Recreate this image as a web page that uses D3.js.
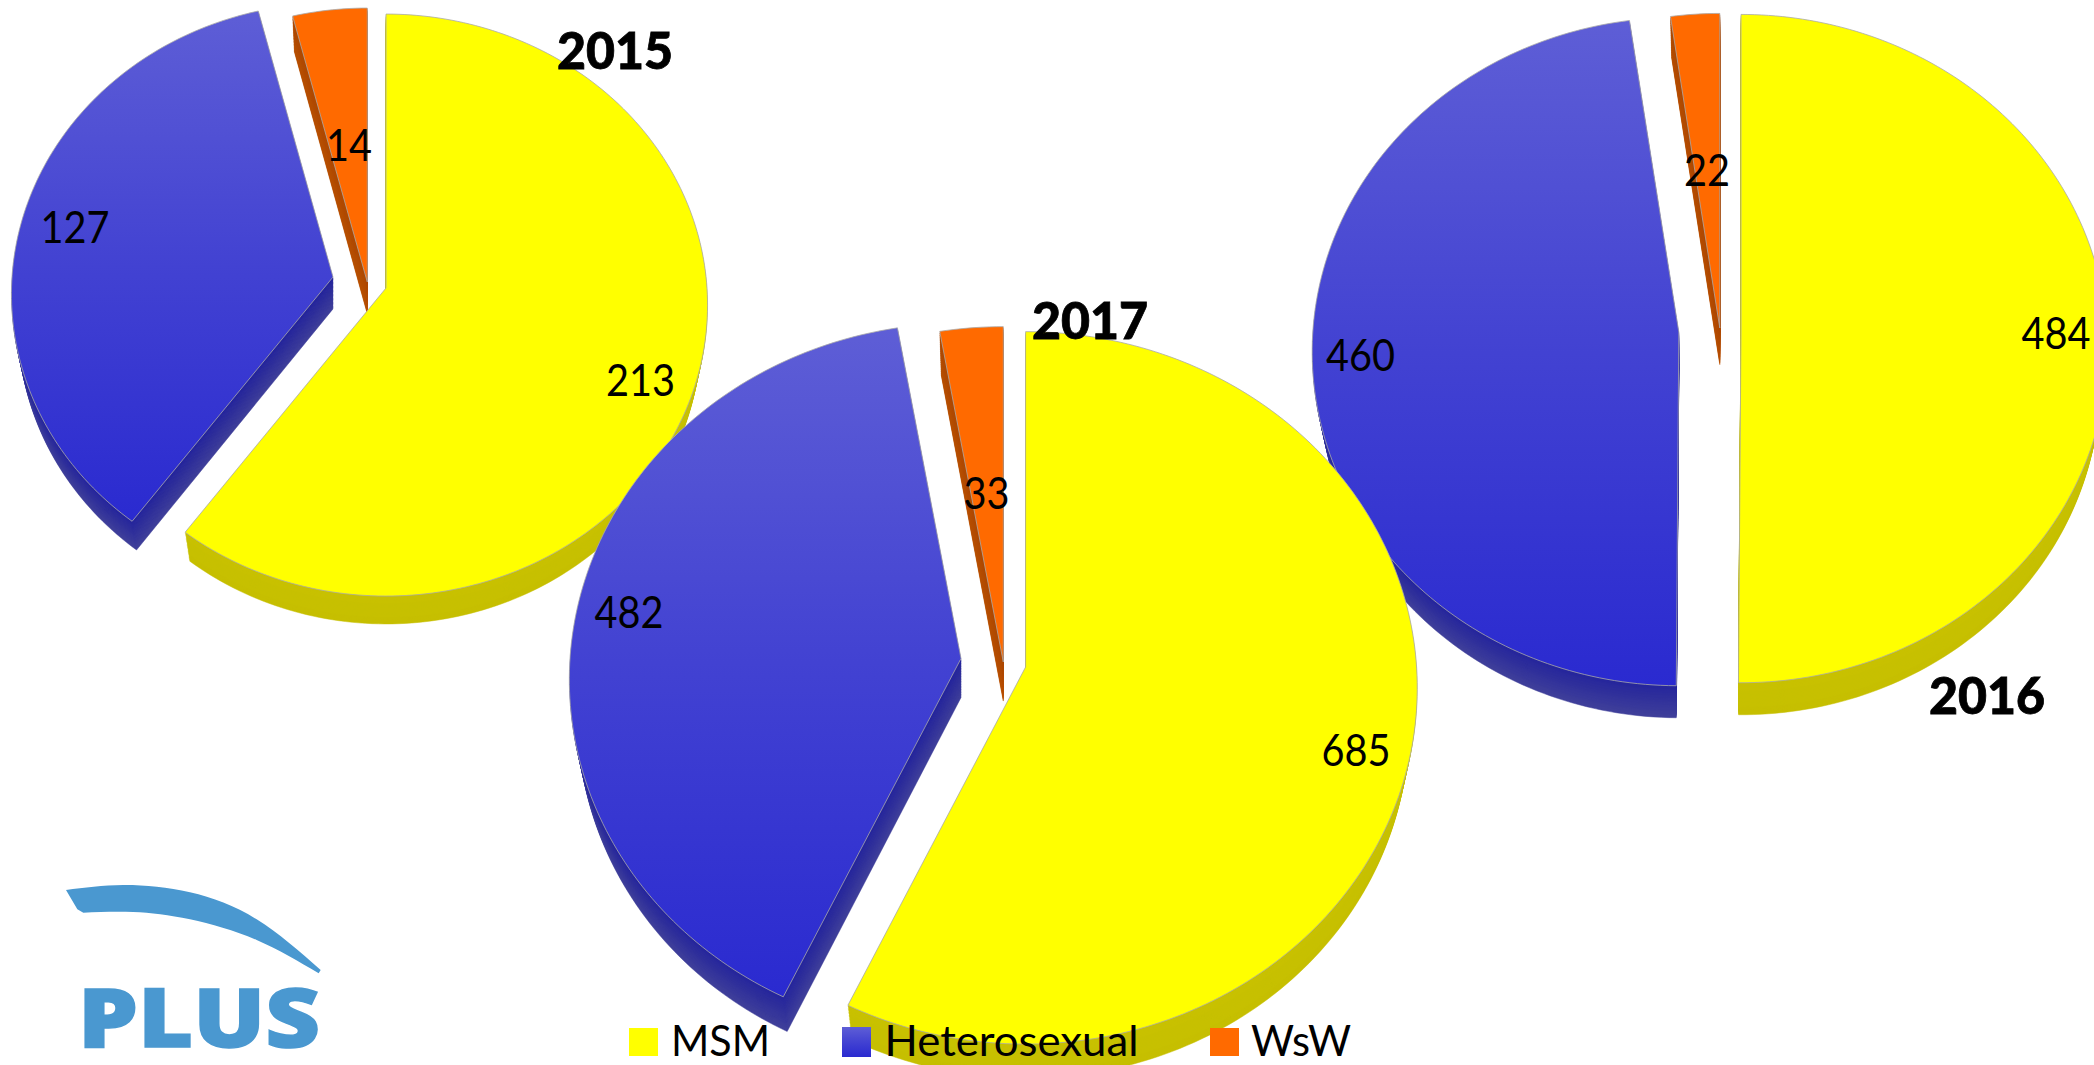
<!DOCTYPE html>
<html>
<head>
<meta charset="utf-8">
<script src="https://cdn.jsdelivr.net/npm/d3@7"></script>
<style>
html,body{margin:0;padding:0;background:#fff;overflow:hidden}
svg{display:block}
text{font-family:Lato,"Open Sans",sans-serif;fill:#000}
</style>
</head>
<body>
<svg id="chart" width="2094" height="1065" viewBox="0 0 2094 1065"></svg>
<script>
// ---- data ----
const categories = ["MSM", "Heterosexual", "WsW"];
const years = ["2015", "2016", "2017"];
const values2015 = [213, 127, 14];
const values2016 = [484, 460, 22];
const values2017 = [685, 482, 33];
const seriesByYear = {2015: values2015, 2016: values2016, 2017: values2017};

// ---- layout (not data) ----
const W = 2094, H = 1065;
const PERSP = 0.0586;
const layout = {
  2015: {rx: 321, ry: 290,
    apex: [[386, 288], [333, 277], [367.3, 282]],
    labels: [[640.5, 378.5], [75, 225.5], [349, 143.5]],
    title: [615, 49]},
  2016: {rx: 366, ry: 333,
    apex: [[1741, 329], [1678.8, 332], [1719.8, 328]],
    labels: [[2056, 332], [1360.5, 353.5], [1707, 168.5]],
    title: [1987, 693.5]},
  2017: {rx: 391, ry: 355,
    apex: [[1025.6, 667], [961, 658.5], [1003.3, 662]],
    labels: [[1356, 748.5], [629, 610.5], [986.6, 491.5]],
    title: [1090, 318.5]}
};
const legendLayout = [
  {x: 629, y: 1028, h: 28, tx: 671, tw: 99},
  {x: 842, y: 1027, h: 30, tx: 884.5, tw: 254},
  {x: 1210, y: 1028, h: 28, tx: 1251, tw: 100}
];

const svg = d3.select("#chart");
const defs = svg.append("defs");
const blueGrad = defs.append("linearGradient").attr("id", "blueTop")
  .attr("x1", 0).attr("y1", 0).attr("x2", 0).attr("y2", 1);
blueGrad.append("stop").attr("offset", 0).attr("stop-color", "#5e5ed6");
blueGrad.append("stop").attr("offset", 0.5).attr("stop-color", "#4242d2");
blueGrad.append("stop").attr("offset", 1).attr("stop-color", "#2a2ad0");

const topFill = d3.scaleOrdinal().domain(categories).range(["#ffff00", "url(#blueTop)", "#ff6a00"]);
const sideNear = d3.scaleOrdinal().domain(categories).range(["#c8c100", "#25259c", "#ad4800"]);
const sideFar = d3.scaleOrdinal().domain(categories).range(["#c6bf00", "#40409a", "#b85000"]);

const pie = d3.pie().sort(null).value(d => d.value).startAngle(0).endAngle(2 * Math.PI);
const outline = d3.line();

// perspective projection of a point on the tilted pie disc
function project(g, apex, u, v, t) {
  const w = 1 - PERSP * v;
  const dx = g.rx * u / w, dy = g.ry * v / w;
  return [
    apex[0] + dx * (1 - 0.022 * t),
    apex[1] + 0.11 * g.ry * t + dy * (1 - 0.013 * t)
  ];
}
function slicePoints(g, apex, arc, t) {
  const n = Math.max(8, Math.ceil((arc.endAngle - arc.startAngle) / 0.02));
  const angles = d3.range(n + 1).map(i => arc.startAngle + (arc.endAngle - arc.startAngle) * i / n);
  return [project(g, apex, 0, 0, t)]
    .concat(angles.map(a => project(g, apex, Math.sin(a), -Math.cos(a), t)));
}

const STEPS = d3.range(24, 0, -1).map(i => i / 24);

years.forEach(year => {
  const g = layout[year];
  const rows = categories.map((c, i) => ({category: c, value: seriesByYear[year][i], i}));
  const arcs = pie(rows);
  const group = svg.append("g").attr("class", "pie-" + year);
  // back to front: WsW, Heterosexual, MSM
  [2, 1, 0].forEach(k => {
    const arc = arcs[k], cat = arc.data.category, apex = g.apex[k];
    const colour = d3.interpolateRgb(sideNear(cat), sideFar(cat));
    group.selectAll(null).data(STEPS).join("path")
      .attr("d", t => outline(slicePoints(g, apex, arc, t)) + "Z")
      .attr("fill", t => colour(t))
      .attr("stroke", t => colour(t))
      .attr("stroke-width", 0.5);
    group.append("path")
      .attr("d", outline(slicePoints(g, apex, arc, 0)) + "Z")
      .attr("fill", topFill(cat))
      .attr("stroke", "#a9a9a9")
      .attr("stroke-width", 0.8)
      .attr("stroke-linejoin", "round");
  });
});

// value labels and year titles
const labelLayer = svg.append("g");
years.forEach(year => {
  const g = layout[year];
  seriesByYear[year].forEach((v, i) => {
    const s = String(v);
    labelLayer.append("text")
      .attr("x", g.labels[i][0]).attr("y", g.labels[i][1])
      .attr("text-anchor", "middle").attr("dominant-baseline", "central")
      .attr("font-size", 44)
      .attr("textLength", 23 * s.length).attr("lengthAdjust", "spacingAndGlyphs")
      .text(s);
  });
  labelLayer.append("text")
    .attr("x", g.title[0]).attr("y", g.title[1])
    .attr("text-anchor", "middle").attr("dominant-baseline", "central")
    .attr("font-size", 52).attr("font-weight", 900)
    .attr("textLength", 116).attr("lengthAdjust", "spacingAndGlyphs")
    .style("stroke", "#000").style("stroke-width", 0.8)
    .text(year);
});

// legend
const legend = svg.append("g");
categories.forEach((c, i) => {
  const l = legendLayout[i];
  legend.append("rect").attr("x", l.x).attr("y", l.y).attr("width", 29).attr("height", l.h)
    .attr("fill", topFill(c));
  legend.append("text").attr("x", l.tx).attr("y", 1056)
    .attr("font-size", 42)
    .attr("textLength", l.tw).attr("lengthAdjust", "spacingAndGlyphs").text(c);
});

// PLUS logo
const logo = svg.append("g");
const toLogo = ([x, y]) => [40 + x / 3, 860 + y / 3];
const swooshTop = [[78, 90], [250, 75], [450, 97], [650, 178], [842, 330]].map(toLogo);
const swooshBottom = [[836, 340], [650, 240], [450, 178], [280, 156], [130, 158]].map(toLogo);
const smooth = d3.line().curve(d3.curveNatural);
logo.append("path")
  .attr("d", smooth(swooshTop) + "L" + smooth(swooshBottom).slice(1) + "L" + toLogo([112, 148]) + "Z")
  .attr("fill", "#4a98d0");
logo.append("text").attr("x", 78).attr("y", 1047)
  .attr("font-size", 81).attr("font-weight", 800)
  .attr("textLength", 242).attr("lengthAdjust", "spacingAndGlyphs")
  .style("font-family", "'Open Sans',Lato,sans-serif")
  .style("fill", "#4a98d0").style("stroke", "#4a98d0").style("stroke-width", 1.5).text("PLUS");
</script>
</body>
</html>
